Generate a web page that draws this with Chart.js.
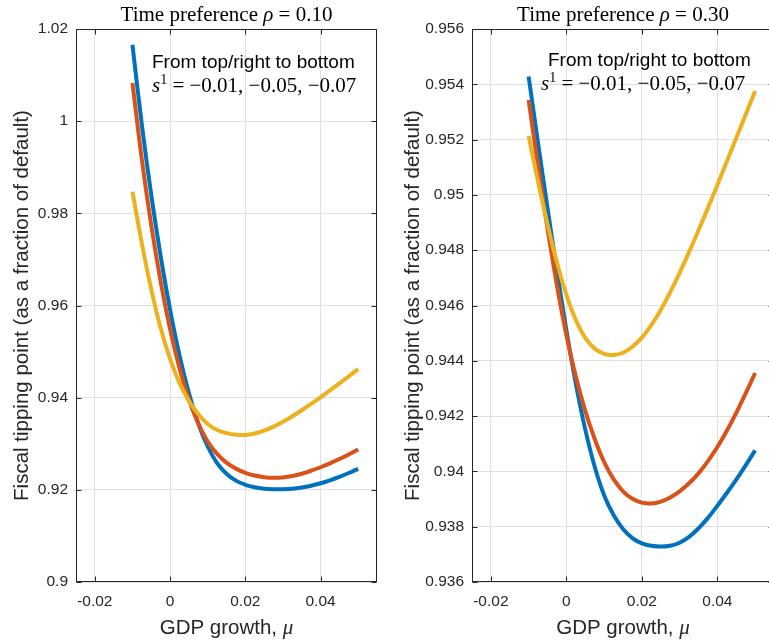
<!DOCTYPE html>
<html>
<head>
<meta charset="utf-8">
<script src="https://cdn.jsdelivr.net/npm/chart.js@4.4.0/dist/chart.umd.min.js"></script>
<style>
  body { margin: 0; background: #fff; overflow: hidden; width: 769px; height: 641px; position: relative; }
  canvas { position: absolute; top: 0; }
  #left { left: 0; }
  #right { left: 385px; }
</style>
</head>
<body>
<canvas id="left" width="385" height="641"></canvas>
<canvas id="right" width="397" height="641"></canvas>
<script>
// GDP growth grid shared by all curves (-0.01 .. 0.05, step 0.0025)
const mu = [-0.01, -0.0075, -0.005, -0.0025, 0, 0.0025, 0.005, 0.0075, 0.01, 0.0125,
            0.015, 0.0175, 0.02, 0.0225, 0.025, 0.0275, 0.03, 0.0325, 0.035, 0.0375,
            0.04, 0.0425, 0.045, 0.0475, 0.05];

// rho = 0.10, s1 = -0.01 / -0.05 / -0.07
const blue10   = [1.0166, 0.9992, 0.9840, 0.9707, 0.9591, 0.9492, 0.9410, 0.9344, 0.9294, 0.9258,
                  0.92350, 0.92200, 0.92110, 0.92055, 0.92025, 0.92013, 0.92011, 0.92023, 0.92049, 0.92089,
                  0.92142, 0.92207, 0.92282, 0.92365, 0.92455];
const red10    = [1.0083, 0.9917, 0.9774, 0.9652, 0.9549, 0.9464, 0.9396, 0.9344, 0.9305, 0.9278,
                  0.92590, 0.92460, 0.92370, 0.92310, 0.92275, 0.92260, 0.92270, 0.92300, 0.92350, 0.92415,
                  0.92490, 0.92575, 0.92668, 0.92768, 0.92875];
const yellow10 = [0.9847, 0.9735, 0.9635, 0.9551, 0.9484, 0.9432, 0.9393, 0.9364, 0.9343, 0.9330,
                  0.93230, 0.93195, 0.93190, 0.93223, 0.93285, 0.93371, 0.93477, 0.93597, 0.93727, 0.93865,
                  0.94009, 0.94158, 0.94310, 0.94464, 0.94620];

// rho = 0.30
const blue30   = [0.95428, 0.95188, 0.94953, 0.94726, 0.94511, 0.94317, 0.94152, 0.94017, 0.93914, 0.93842,
                  0.93792, 0.93759, 0.93740, 0.93731, 0.93728, 0.93731, 0.93742, 0.93763, 0.93794, 0.93832,
                  0.93876, 0.93922, 0.93970, 0.94022, 0.94076];
const red30    = [0.95343, 0.95104, 0.94879, 0.94673, 0.94493, 0.94343, 0.94219, 0.94117, 0.94034, 0.93972,
                  0.93928, 0.93901, 0.93887, 0.93884, 0.93891, 0.93906, 0.93928, 0.93957, 0.93993, 0.94037,
                  0.94088, 0.94147, 0.94212, 0.94282, 0.94356];
const yellow30 = [0.95213, 0.95048, 0.94894, 0.94756, 0.94638, 0.94547, 0.94483, 0.94444, 0.94425, 0.94421,
                  0.94429, 0.94451, 0.94484, 0.94529, 0.94584, 0.94648, 0.94718, 0.94793, 0.94872, 0.94953,
                  0.95036, 0.95121, 0.95206, 0.95291, 0.95376];

const xTicks = [-0.02, 0, 0.02, 0.04];
const yTicks10 = [0.9, 0.92, 0.94, 0.96, 0.98, 1, 1.02];
const yTicks30 = [0.936, 0.938, 0.94, 0.942, 0.944, 0.946, 0.948, 0.95, 0.952, 0.954, 0.956];

const SANS = "'Liberation Sans', Arial, sans-serif";
const SERIF = "'Liberation Serif', 'Times New Roman', serif";
const INK = '#262626';

function drawParts(ctx, parts, x, y, align) {
  let w = 0;
  parts.forEach(p => { ctx.font = p.font; p.w = ctx.measureText(p.text).width; w += p.w; });
  let cx = align === 'center' ? x - w / 2 : x;
  parts.forEach(p => {
    ctx.font = p.font;
    ctx.fillText(p.text, cx, y - (p.rise || 0));
    cx += p.w;
  });
}

function makeDecor(cfg) {
  return {
    id: 'decor',
    afterDraw(chart) {
      const ctx = chart.ctx;
      const a = chart.chartArea;
      const xs = chart.scales.x, ys = chart.scales.y;
      ctx.save();
      ctx.strokeStyle = INK;
      ctx.lineWidth = 1;
      const L = Math.round(a.left) + 0.5, R = Math.round(a.right) - 0.5;
      const T = Math.round(a.top) + 0.5, B = Math.round(a.bottom) - 0.5;
      ctx.strokeRect(L, T, R - L, B - T);
      // inward ticks
      ctx.beginPath();
      xTicks.forEach(v => {
        const px = Math.round(xs.getPixelForValue(v)) + 0.5;
        ctx.moveTo(px, B); ctx.lineTo(px, B - 5);
        ctx.moveTo(px, T); ctx.lineTo(px, T + 5);
      });
      cfg.yTicks.forEach(v => {
        const py = Math.round(ys.getPixelForValue(v)) + 0.5;
        ctx.moveTo(L, py); ctx.lineTo(L + 5, py);
        ctx.moveTo(R, py); ctx.lineTo(R - 5, py);
      });
      ctx.stroke();

      ctx.fillStyle = '#000';
      ctx.textBaseline = 'alphabetic';
      const cx = (a.left + a.right) / 2;
      drawParts(ctx, [
        { text: 'Time preference ', font: `21px ${SERIF}` },
        { text: 'ρ', font: `italic 21px ${SERIF}` },
        { text: ' = ' + cfg.rho, font: `21px ${SERIF}` }
      ], cx, 21, 'center');

      drawParts(ctx, [{ text: 'From top/right to bottom', font: `19px ${SANS}` }], cfg.n1x, cfg.n1y, 'left');
      drawParts(ctx, [
        { text: 's', font: `italic 21px ${SERIF}` },
        { text: '1', font: `14px ${SERIF}`, rise: 8 },
        { text: ' = −0.01, −0.05, −0.07', font: `21px ${SERIF}` }
      ], cfg.n2x, cfg.n2y, 'left');

      ctx.fillStyle = INK;
      drawParts(ctx, [
        { text: 'GDP growth, ', font: `20.5px ${SANS}` },
        { text: 'μ', font: `italic 21px ${SERIF}` }
      ], cx, 634, 'center');

      ctx.translate(cfg.ytx, (a.top + a.bottom) / 2);
      ctx.rotate(-Math.PI / 2);
      ctx.textAlign = 'center';
      ctx.textBaseline = 'middle';
      ctx.font = `20.5px ${SANS}`;
      ctx.fillText('Fiscal tipping point (as a fraction of default)', 0, 0);
      ctx.restore();
    }
  };
}

function series(vals, color, order) {
  return {
    data: mu.map((m, i) => ({ x: m, y: vals[i] })),
    borderColor: color,
    borderWidth: 4,
    pointRadius: 0,
    tension: 0.4,
    fill: false,
    order: order
  };
}

function makeChart(id, cfg) {
  return new Chart(document.getElementById(id), {
    type: 'line',
    data: {
      datasets: [
        series(cfg.blue, '#0072BD', 3),
        series(cfg.red, '#D95319', 2),
        series(cfg.yellow, '#EDB120', 1)
      ]
    },
    options: {
      responsive: false,
      animation: false,
      layout: { padding: { top: 29, right: 8, left: 0, bottom: 0 } },
      plugins: { legend: { display: false }, tooltip: { enabled: false } },
      scales: {
        x: {
          type: 'linear', min: -0.025, max: 0.055,
          afterBuildTicks: ax => { ax.ticks = xTicks.map(v => ({ value: v })); },
          afterFit: ax => { ax.height = 59; },
          grid: { color: '#e0e0e0', drawTicks: false },
          border: { display: false },
          ticks: { color: INK, padding: 10, maxRotation: 0, font: { family: SANS, size: 15.5 },
                   callback: v => String(+v.toFixed(4)) }
        },
        y: {
          min: cfg.ymin, max: cfg.ymax,
          afterBuildTicks: ax => { ax.ticks = cfg.yTicks.map(v => ({ value: v })); },
          afterFit: ax => { ax.width = cfg.yw; },
          grid: { color: '#e0e0e0', drawTicks: false },
          border: { display: false },
          ticks: { color: INK, padding: 8, font: { family: SANS, size: 15.5 },
                   callback: v => String(+v.toFixed(4)) }
        }
      }
    },
    plugins: [makeDecor(cfg)]
  });
}

makeChart('left', {
  blue: blue10, red: red10, yellow: yellow10,
  ymin: 0.9, ymax: 1.02, yTicks: yTicks10, yw: 76, rho: '0.10',
  n1x: 152, n1y: 68, n2x: 152, n2y: 92, ytx: 22
});
makeChart('right', {
  blue: blue30, red: red30, yellow: yellow30,
  ymin: 0.936, ymax: 0.956, yTicks: yTicks30, yw: 87, rho: '0.30',
  n1x: 163, n1y: 66, n2x: 156, n2y: 90, ytx: 28
});
</script>
</body>
</html>
